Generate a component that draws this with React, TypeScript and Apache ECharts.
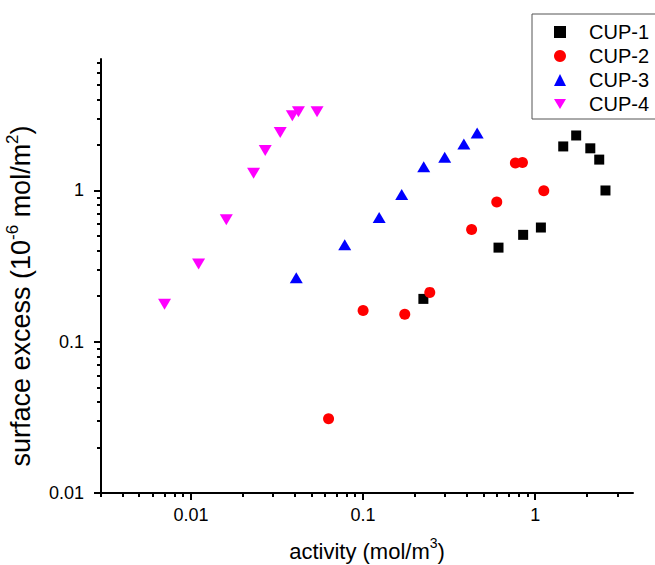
import { useEffect, useRef } from "react";
import * as echarts from "echarts";

const FONT = "'Liberation Sans', Arial, sans-serif";

const xMin = 0.003;
const xMax = 3.7;
const yMin = 0.01;
const yMax = 7.4;

const xMajorTicks = [0.01, 0.1, 1];
const xMinorTicks = [0.003, 0.004, 0.005, 0.006, 0.007, 0.008, 0.009, 0.02, 0.03, 0.04, 0.05, 0.06, 0.07, 0.08, 0.09, 0.2, 0.3, 0.4, 0.5, 0.6, 0.7, 0.8, 0.9, 2, 3];
const yMajorTicks = [0.01, 0.1, 1];
const yMinorTicks = [0.02, 0.03, 0.04, 0.05, 0.06, 0.07, 0.08, 0.09, 0.2, 0.3, 0.4, 0.5, 0.6, 0.7, 0.8, 0.9, 2, 3, 4, 5, 6, 7];

const seriesNames = ["CUP-1", "CUP-2", "CUP-3", "CUP-4"];

const cup1X = [0.224, 0.612, 0.851, 1.079, 1.455, 1.73, 2.09, 2.355, 2.56];
const cup1Y = [0.192, 0.419, 0.509, 0.569, 1.955, 2.31, 1.9, 1.6, 1.0];

const cup2X = [0.063, 0.1, 0.1746, 0.244, 0.427, 0.598, 0.767, 0.843, 1.122];
const cup2Y = [0.031, 0.161, 0.152, 0.212, 0.552, 0.838, 1.518, 1.53, 0.995];

const cup3X = [0.0409, 0.0782, 0.124, 0.1676, 0.225, 0.298, 0.385, 0.46];
const cup3Y = [0.265, 0.437, 0.663, 0.941, 1.435, 1.66, 2.03, 2.4];

const cup4X = [0.00702, 0.01107, 0.01604, 0.0231, 0.027, 0.033, 0.0388, 0.0421, 0.054];
const cup4Y = [0.177, 0.327, 0.64, 1.3, 1.84, 2.42, 3.12, 3.32, 3.32];

const zip = (xs: number[], ys: number[]) => xs.map((x, i) => [x, ys[i]]);

const DOWN_TRI = "path://M0,0L20,0L10,17Z";

export default function App() {
  const ref = useRef<HTMLDivElement>(null);

  useEffect(() => {
    if (!ref.current) return;
    const chart = echarts.init(ref.current, undefined, { renderer: "svg" });

    const axisLine = { show: true, lineStyle: { color: "#000", width: 2 } };
    const labelStyle = {
      color: "#000",
      fontFamily: FONT,
      fontSize: 18,
    };

    const option: any = {
      animation: false,
      backgroundColor: "#fff",
      grid: { left: 101, right: 22, top: 59, bottom: 72, containLabel: false, outerBoundsMode: "none" },
      legend: {
        orient: "vertical",
        left: 532,
        top: 14,
        padding: [8, 40, 5, 22],
        itemWidth: 12,
        itemHeight: 12,
        itemGap: 4,
        borderColor: "#555",
        borderWidth: 1,
        textStyle: {
          color: "#000",
          fontFamily: FONT,
          fontSize: 20,
          lineHeight: 20,
          padding: [0, 0, 0, 18],
        },
        data: [
          { name: seriesNames[0], icon: "rect" },
          { name: seriesNames[1], icon: "circle" },
          { name: seriesNames[2], icon: "triangle" },
          { name: seriesNames[3], icon: DOWN_TRI },
        ],
      },
      xAxis: [
        {
          type: "log",
          logBase: 10,
          min: xMin,
          max: xMax,
          position: "bottom",
          axisLine,
          splitLine: { show: false },
          axisTick: {
            show: true,
            inside: false,
            length: 7,
            lineStyle: { color: "#000", width: 2 },
            customValues: xMajorTicks,
          },
          axisLabel: {
            ...labelStyle,
            margin: 13,
            customValues: xMajorTicks,
            formatter: (v: number) => String(v),
          },
          name: "activity (mol/m{sup|3})",
          nameLocation: "middle",
          nameGap: 43,
          nameTextStyle: {
            color: "#000",
            fontFamily: FONT,
            fontSize: 22,
            lineHeight: 30,
            rich: {
              sup: { fontSize: 14, lineHeight: 15, verticalAlign: "top", fontFamily: FONT, color: "#000" },
            },
          },
        },
        {
          type: "log",
          logBase: 10,
          min: xMin,
          max: xMax,
          position: "bottom",
          axisLine: { show: false },
          splitLine: { show: false },
          axisTick: {
            show: true,
            inside: false,
            length: 4,
            lineStyle: { color: "#000", width: 2 },
            customValues: xMinorTicks,
          },
          axisLabel: { show: false },
        },
      ],
      yAxis: [
        {
          type: "log",
          logBase: 10,
          min: yMin,
          max: yMax,
          position: "left",
          axisLine,
          splitLine: { show: false },
          axisTick: {
            show: true,
            inside: false,
            length: 7,
            lineStyle: { color: "#000", width: 2 },
            customValues: yMajorTicks,
          },
          axisLabel: {
            ...labelStyle,
            margin: 17,
            customValues: yMajorTicks,
            formatter: (v: number) => String(v),
          },
          name: "surface excess (10{sup|-6} mol/m{sup|2})",
          nameLocation: "middle",
          nameGap: 58,
          nameRotate: 90,
          nameTextStyle: {
            color: "#000",
            fontFamily: FONT,
            fontSize: 27,
            lineHeight: 34,
            padding: [0, 40, 0, 0],
            rich: {
              sup: { fontSize: 17, lineHeight: 17, verticalAlign: "top", fontFamily: FONT, color: "#000" },
            },
          },
        },
        {
          type: "log",
          logBase: 10,
          min: yMin,
          max: yMax,
          position: "left",
          axisLine: { show: false },
          splitLine: { show: false },
          axisTick: {
            show: true,
            inside: false,
            length: 4,
            lineStyle: { color: "#000", width: 2 },
            customValues: yMinorTicks,
          },
          axisLabel: { show: false },
        },
      ],
      series: [
        {
          name: seriesNames[0],
          type: "scatter",
          symbol: "rect",
          symbolSize: 10,
          itemStyle: { color: "#000000", opacity: 1 },
          data: zip(cup1X, cup1Y),
        },
        {
          name: seriesNames[1],
          type: "scatter",
          symbol: "circle",
          symbolSize: 11,
          itemStyle: { color: "#ff0000", opacity: 1 },
          data: zip(cup2X, cup2Y),
        },
        {
          name: seriesNames[2],
          type: "scatter",
          symbol: "triangle",
          symbolSize: [13, 11],
          itemStyle: { color: "#0000ff", opacity: 1 },
          data: zip(cup3X, cup3Y),
        },
        {
          name: seriesNames[3],
          type: "scatter",
          symbol: DOWN_TRI,
          symbolSize: [13, 11],
          itemStyle: { color: "#ff00ff", opacity: 1 },
          data: zip(cup4X, cup4Y),
        },
      ],
    };

    chart.setOption(option);
    return () => chart.dispose();
  }, []);

  return (
    <div
      ref={ref}
      style={{ position: "fixed", left: 0, top: 0, width: 655, height: 565, background: "#fff" }}
    />
  );
}
